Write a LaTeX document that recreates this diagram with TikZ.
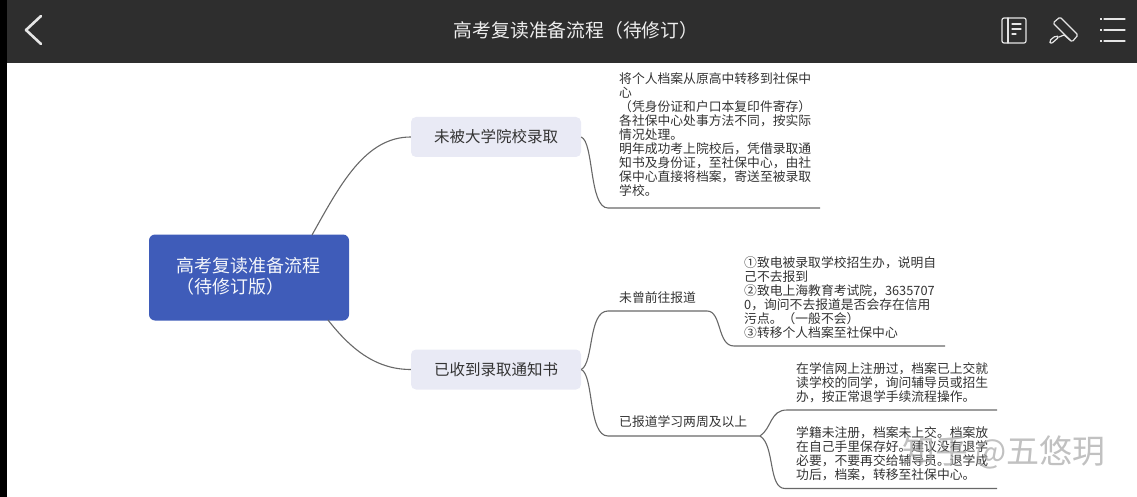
\documentclass[tikz,border=0pt]{standalone}
\usepackage{fontspec}
\setmainfont{Noto Sans CJK SC}
\definecolor{barc}{HTML}{2E2E2E}
\definecolor{rootc}{HTML}{3F5CB9}
\definecolor{branchc}{HTML}{E9EAF5}
\definecolor{linec}{HTML}{686868}
\definecolor{textc}{HTML}{333333}
\newcommand{\fsz}[2]{\fontsize{#1pt}{#2pt}\selectfont}
\tikzset{
  leaf/.style={anchor=north west,inner sep=0pt,align=left,text=textc,font=\fsz{12.8}{14.1}},
  label/.style={anchor=west,inner sep=0pt,text=textc,font=\fsz{12.8}{14.1}},
  branch/.style={rectangle,rounded corners=5pt,fill=branchc,minimum width=170pt,minimum height=40pt,inner sep=0pt,text=textc,font=\fsz{15.5}{18}},
  rootbox/.style={rectangle,rounded corners=6pt,fill=rootc,minimum width=200pt,minimum height=86pt,inner sep=0pt},
  conn/.style={draw=linec,line width=1.1pt},
  icon/.style={draw=white!90!black,line width=1.2pt,line cap=round,line join=round},
}
\begin{document}
\begin{tikzpicture}[x=1pt,y=-1pt]
\useasboundingbox (0,0) rectangle (1137,497);
% screen and title bar
\fill[black] (0,0) rectangle (7,497);
\fill[barc] (7,0) rectangle (1137,63);
\node[anchor=center,inner sep=0pt,text=white!93!black,font=\fsz{18.8}{22}] (title) at (576,30) {高考复读准备流程（待修订）};
% back chevron
\draw[icon,line width=2.6pt] (41,16) -- (26,30) -- (41,44);
% book icon
\draw[icon,rounded corners=2pt] (1002,18) rectangle (1026,43);
\draw[icon] (1008,18) -- (1008,43);
\draw[icon] (1012,24) -- (1021,24) (1012,29) -- (1021,29) (1012,34) -- (1016,34);
% roller icon
\draw[icon,rounded corners=1.5pt] (1053,23) -- (1060,17) -- (1078,35) -- (1072,42) -- cycle;
\draw[icon] (1070,40) -- (1064,35) -- (1059,37);
\draw[icon,rounded corners=2pt] (1059,37) -- (1056,35.5) -- (1049,41) -- (1051,44) -- cycle;
% list icon
\foreach \yy in {19,30,41}{
  \draw[icon] (1104,\yy) -- (1125,\yy);
  \fill[white!90!black] (1100,\yy-1) rectangle (1102,\yy+1);
}
% nodes
\node[rootbox] (root) at (249,277.5) {};
\node[anchor=north west,inner sep=0pt,align=left,text=white!95!rootc,font=\fsz{18}{20.3}] (roottext) at (176,257.5) {高考复读准备流程\\（待修订版）};
\node[branch] (b1) at (496,137) {未被大学院校录取};
\node[branch] (b2) at (496,369.5) {已收到录取通知书};
\node[leaf] (t1) at (619,72) {将个人档案从原高中转移到社保中\\心\\（凭身份证和户口本复印件寄存）\\各社保中心处事方法不同，按实际\\情况处理。\\明年成功考上院校后，凭借录取通\\知书及身份证，至社保中心，由社\\保中心直接将档案，寄送至被录取\\学校。};
\node[label] (l1) at (619,298) {未曾前往报道};
\node[leaf] (t2) at (744,256) {①致电被录取学校招生办，说明自\\己不去报到\\②致电上海教育考试院，3635707\\0，询问不去报道是否会存在信用\\污点。（一般不会）\\③转移个人档案至社保中心};
\node[label] (l2) at (619,422) {已报道学习两周及以上};
\node[leaf] (t3) at (796,362.5) {在学信网上注册过，档案已上交就\\读学校的同学，询问辅导员或招生\\办，按正常退学手续流程操作。};
\node[leaf] (t4) at (796,426) {学籍未注册，档案未上交。档案放\\在自己手里保存好。建议没有退学\\必要，不要再交给辅导员。退学成\\功后，档案，转移至社保中心。};
% junctions
\coordinate (r1) at (312,235);
\coordinate (r2) at (328,320);
\coordinate (e1s) at (608,208);
\coordinate (e1) at (820,208);
\coordinate (j1a) at (608,311);
\coordinate (j1b) at (707,311);
\coordinate (j1c) at (734,346);
\coordinate (e2) at (945,346);
\coordinate (j2a) at (608,436);
\coordinate (j2b) at (760,436);
\coordinate (j3) at (787,410);
\coordinate (e3) at (997,410);
\coordinate (j4) at (785,488.5);
\coordinate (e4) at (997,488.5);
% connectors
\draw[conn] (r1) .. controls (340,185) and (365,137) .. (b1.west);
\draw[conn] (r2) .. controls (350,348) and (375,369.5) .. (b2.west);
\draw[conn] (b1.east) .. controls (594,142) and (589,208) .. (e1s) -- (e1);
\draw[conn] (b2.east) .. controls (594,363) and (588,311) .. (j1a) -- (j1b) .. controls (722,311) and (717,346) .. (j1c) -- (e2);
\draw[conn] (b2.east) .. controls (594,375) and (588,436) .. (j2a) -- (j2b) .. controls (772,428) and (770,410) .. (j3) -- (e3);
\draw[conn] (j2b) .. controls (775,445) and (768,488.5) .. (j4) -- (e4);
% watermark
\node[anchor=center,inner sep=0pt,text=black!35,opacity=.7,font=\fsz{33}{36}] (wm) at (1004,452) {知乎 @五悠玥};
\end{tikzpicture}
\end{document}
